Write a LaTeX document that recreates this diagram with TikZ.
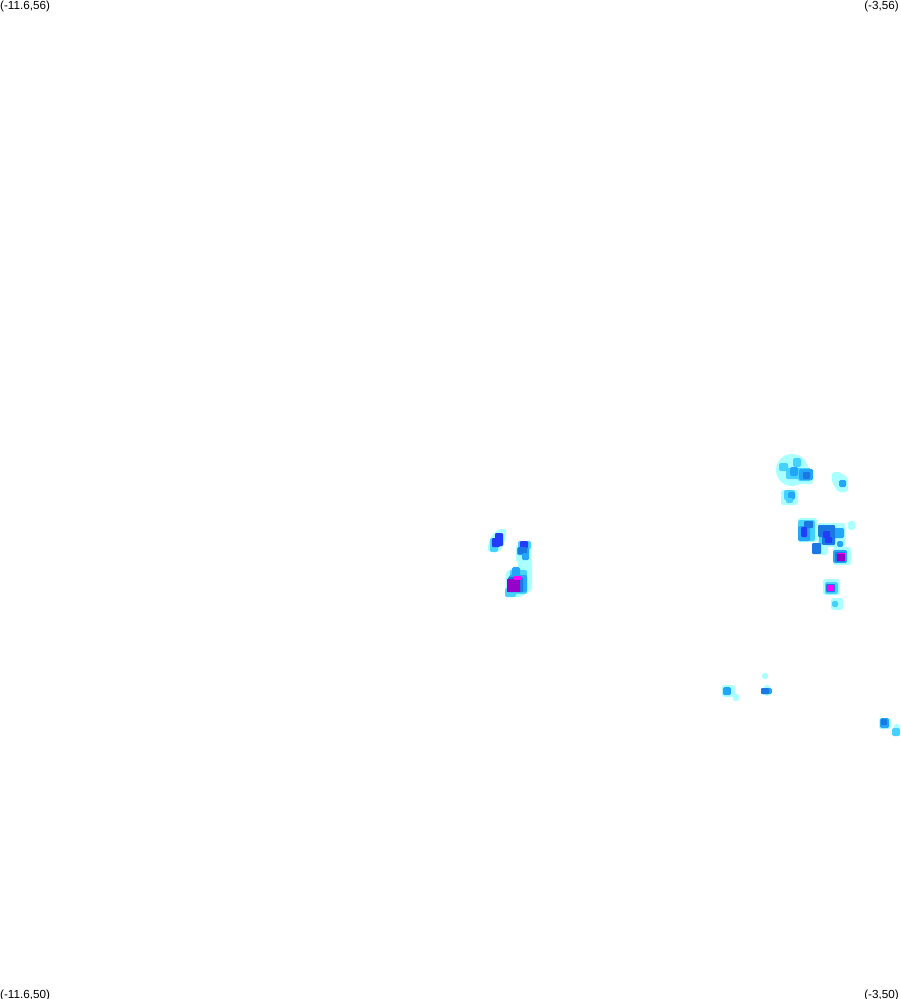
\documentclass[tikz,border=0pt]{standalone}
\usepackage{fontspec}
\setmainfont{Liberation Sans}
\definecolor{lvA}{RGB}{170,255,255}
\definecolor{lvB}{RGB}{70,210,255}
\definecolor{lvC}{RGB}{35,165,250}
\definecolor{lvD}{RGB}{25,120,225}
\definecolor{lvE}{RGB}{35,60,250}
\definecolor{lvF}{RGB}{150,0,200}
\definecolor{lvG}{RGB}{255,0,255}
\tikzset{
  a/.style={fill=lvA,rounded corners=2.5pt},b/.style={fill=lvB,rounded corners=2pt},c/.style={fill=lvC,rounded corners=1.5pt},d/.style={fill=lvD,rounded corners=1pt},
  e/.style={fill=lvE,rounded corners=1pt},f/.style={fill=lvF},g/.style={fill=lvG},
  corner/.style={inner sep=0pt,font=\fontsize{11.7}{12}\selectfont,text=black}
}
\begin{document}
\begin{tikzpicture}[x=1pt,y=-1pt]
\useasboundingbox (0,0) rectangle (900,999);
\fill[white] (0,0) rectangle (900,999);
% left pair, upper blob
\path[a] (499,529) -- (506,529) -- (506,536) -- (503,547) -- (498,552) -- (488,552) -- (488,545) -- (492,535) -- cycle;
\path[b] (490,538) rectangle (498,552);
\path[e] (495,533) rectangle (503,546);
\path[e] (492,538) rectangle (500,547);
% left pair, upper right blob and tail
\path[a] (516,545) rectangle (531,562);
\path[a] (518,558) rectangle (532,580);
\path[b] (518,541) rectangle (531,549);
\path[c] (517,547) rectangle (529,555);
\path[e] (520,541) rectangle (528,548);
\path[d] (518,547) rectangle (527,554);
\path[c] (522,553) rectangle (529,560);
% left pair, main blob
\path[a] (506,572) -- (516,566) -- (532,570) -- (532,590) -- (520,597) -- (505,597) -- cycle;
\path[b] (505,588) rectangle (516,597);
\path[b] (510,570) rectangle (527,594);
\path[c] (512,567) rectangle (520,576);
\path[c] (509,575) rectangle (527,592);
\path[d] (508,577) rectangle (523,592);
\path[f] (507,579) rectangle (520,592);
\path[g] (514,576) rectangle (521,580);
% top right group
\path[a] (792,470) circle[radius=16];
\path[a] (798,469) rectangle (813,484);
\path[b] (786,468) rectangle (800,479);
\path[b] (779,463) rectangle (788,471);
\path[b] (793,458) rectangle (801,467);
\path[c] (790,467) rectangle (798,476);
\path[b] (798,468) rectangle (811,481);
\path[c] (799,469) rectangle (813,480);
\path[d] (803,472) rectangle (810,479);
\path[a] (781,490) rectangle (798,505);
\path[b] (784,490) rectangle (795,500);
\path[c] (788,492) rectangle (795,499);
\path[b] (786,498) rectangle (793,503);
\path[a] (832,472) -- (840,472) -- (848,478) -- (848,492) -- (838,492) -- (832,482) -- cycle;
\path[c] (839,480) rectangle (846,487);
% middle right group
\path[a] (798,518) rectangle (817,542);
\path[b] (798,520) rectangle (815,541);
\path[c] (798,526) rectangle (810,541);
\path[d] (804,521) rectangle (813,528);
\path[e] (801,527) rectangle (807,537);
\path[a] (818,523) rectangle (845,547);
\path[c] (833,528) rectangle (844,538);
\path[b] (819,528) rectangle (835,544);
\path[d] (818,525) rectangle (835,537);
\path[d] (822,535) rectangle (835,545);
\path[e] (823,531) rectangle (830,538);
\path[e] (825,537) rectangle (832,543);
\path[a] (848,521) rectangle (855,530);
\path[c] (837,541) rectangle (843,547);
\path[a] (820,545) rectangle (828,555);
\path[d] (812,543) rectangle (821,554);
% purple blob
\path[a] (833,547) rectangle (851,565);
\path[c] (833,550) rectangle (847,563);
\path[d] (835,552) rectangle (845,562);
\path[f] (837,553) rectangle (845,561);
\path[g] (837,552.5) rectangle (845,554);
% magenta blob
\path[a] (823,579) rectangle (840,595);
\path[b] (825,582) rectangle (838,594);
\path[d] (826,584) rectangle (835,592);
\path[g] (827,585) rectangle (833,591);
\path[a] (831,598) rectangle (843,610);
\path[b] (832,601) rectangle (838,607);
% lower group
\path[a] (762,673) rectangle (768,679);
\path[a] (722,685) rectangle (735,697);
\path[a] (733,694) rectangle (739,701);
\path[c] (723,687) rectangle (731,695);
\path[a] (764,685) rectangle (770,696);
\path[c] (761,688) rectangle (772,694);
\path[d] (761,688) rectangle (769,694);
% bottom right group
\path[a] (879,718) rectangle (891,729);
\path[c] (880,718) rectangle (889,728);
\path[d] (881,719) rectangle (887,725);
\path[a] (894,724) rectangle (900,730);
\path[b] (892,728) rectangle (900,736);
% corner labels
\node[corner,anchor=base west] (tl) at (0,9) {(-11.6,56)};
\node[corner,anchor=base east] (tr) at (899,9) {(-3,56)};
\node[corner,anchor=base west] (bl) at (0,998) {(-11.6,50)};
\node[corner,anchor=base east] (br) at (899,998) {(-3,50)};
\end{tikzpicture}
\end{document}
